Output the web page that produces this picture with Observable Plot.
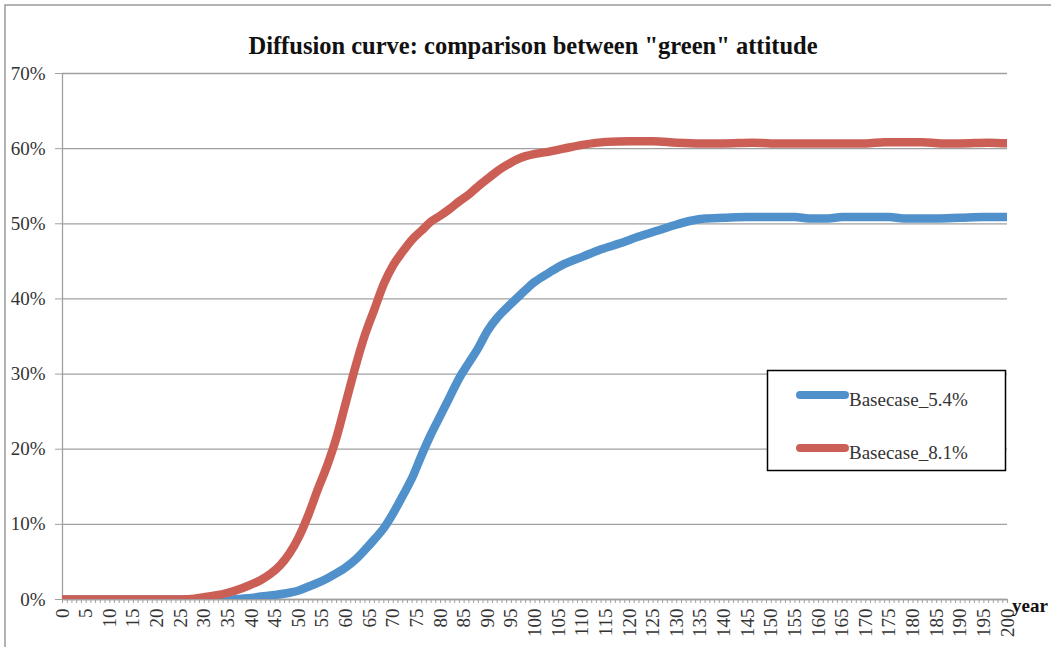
<!DOCTYPE html>
<html>
<head>
<meta charset="utf-8">
<script src="https://cdn.jsdelivr.net/npm/d3@7"></script>
<script src="https://cdn.jsdelivr.net/npm/@observablehq/plot@0.6"></script>
<style>
  html, body { margin: 0; padding: 0; background: #fff; }
  #chart { position: relative; width: 1051px; height: 647px; overflow: hidden; }
  #chart svg { display: block; }
</style>
</head>
<body>
<div id="chart"></div>
<script>
// ---- data ----
const title = "Diffusion curve: comparison between \"green\" attitude";
const xAxisLabel = "year";
const seriesNames = ["Basecase_5.4%", "Basecase_8.1%"];
const seriesColors = ["#5191cb", "#cc5f55"];

const blueYears  = [0, 5, 10, 15, 20, 25, 30, 35, 38, 40, 42, 45, 48, 50, 52, 54, 56, 58, 60, 62, 64, 66, 68, 70, 72, 74, 76, 78, 80, 82, 84, 86, 88, 90, 92, 94, 96, 98, 100, 103, 106, 110, 114, 118, 122, 126, 130, 133, 136, 140, 145, 150, 155, 158, 162, 165, 170, 175, 178, 185, 190, 195, 200];
const blueValues = [0, 0, 0, 0, 0, 0, 0, 0, 0.1, 0.2, 0.4, 0.6, 0.9, 1.2, 1.7, 2.2, 2.8, 3.5, 4.3, 5.3, 6.6, 8.0, 9.5, 11.5, 13.8, 16.2, 19.2, 22.0, 24.5, 27.0, 29.5, 31.5, 33.5, 35.8, 37.5, 38.8, 40.0, 41.2, 42.3, 43.5, 44.6, 45.6, 46.6, 47.4, 48.3, 49.1, 49.9, 50.4, 50.7, 50.8, 50.9, 50.9, 50.9, 50.7, 50.7, 50.9, 50.9, 50.9, 50.7, 50.7, 50.8, 50.9, 50.9];

const redYears  = [0, 5, 10, 15, 20, 25, 28, 30, 32, 35, 38, 40, 42, 44, 46, 48, 50, 52, 54, 56, 58, 60, 62, 64, 66, 68, 70, 72, 74, 76, 78, 80, 82, 84, 86, 88, 90, 92, 94, 96, 98, 100, 103, 106, 110, 115, 120, 125, 130, 135, 140, 146, 150, 160, 170, 174, 178, 182, 186, 190, 196, 200];
const redValues = [0, 0, 0, 0, 0, 0, 0.1, 0.3, 0.5, 0.9, 1.5, 2.0, 2.6, 3.4, 4.5, 6.1, 8.3, 11.2, 14.6, 17.8, 21.6, 26.3, 31.0, 35.2, 38.6, 42.0, 44.5, 46.3, 47.9, 49.1, 50.3, 51.1, 52.0, 53.0, 53.9, 55.0, 56.0, 57.0, 57.8, 58.5, 59.0, 59.3, 59.6, 60.0, 60.5, 60.9, 61.0, 61.0, 60.8, 60.7, 60.7, 60.8, 60.7, 60.7, 60.7, 60.85, 60.85, 60.85, 60.7, 60.7, 60.8, 60.7];

const yTickValues = [0, 0.1, 0.2, 0.3, 0.4, 0.5, 0.6, 0.7];
const xMinorTicks = d3.range(0, 201, 1);
const xLabelTicks = d3.range(0, 201, 5);

// ---- build tables ----
const blueData = blueYears.map((x, i) => ({x, y: blueValues[i] / 100}));
const redData  = redYears.map((x, i) => ({x, y: redValues[i] / 100}));

const gridColor = "#a0a0a0";
const textColor = "#333";
const serif = "'Liberation Serif', 'Times New Roman', serif";

const svg = Plot.plot({
  width: 1051,
  height: 647,
  marginLeft: 62,
  marginRight: 44,
  marginTop: 73,
  marginBottom: 48,
  x: {domain: [0, 200]},
  y: {domain: [0, 0.7]},
  style: {fontFamily: serif, fontSize: "19px", color: textColor, background: "transparent", overflow: "visible"},
  marks: [
    Plot.gridY(yTickValues, {stroke: gridColor, strokeOpacity: 1, strokeWidth: 1.3}),
    Plot.axisY(yTickValues, {tickFormat: d => Math.round(d * 100) + "%", tickSize: 7, tickPadding: 10, stroke: gridColor, strokeOpacity: 1, label: null, fill: textColor}),
    Plot.ruleX([0], {stroke: gridColor, strokeWidth: 1.3}),
    Plot.ruleY([0], {stroke: gridColor, strokeWidth: 1.3}),
    Plot.axisX(xMinorTicks, {tickSize: 4, tickFormat: () => "", stroke: gridColor, strokeOpacity: 1, label: null}),
    Plot.axisX(xLabelTicks, {tickSize: 0, tickPadding: 9, tickRotate: -90, label: null, fill: textColor}),
    Plot.line(blueData, {x: "x", y: "y", stroke: seriesColors[0], strokeWidth: 8.5, curve: "monotone-x", clip: true, strokeLinejoin: "round", strokeLinecap: "round"}),
    Plot.line(redData, {x: "x", y: "y", stroke: seriesColors[1], strokeWidth: 8.5, curve: "monotone-x", clip: true, strokeLinejoin: "round", strokeLinecap: "round"})
  ]
});

const s = d3.select(svg);
// outer chart-area border
s.insert("rect", ":first-child")
  .attr("x", 5).attr("y", 5).attr("width", 1200).attr("height", 800)
  .attr("fill", "none").attr("stroke", "#9a9a9a").attr("stroke-width", 1.5);

// title
s.append("text")
  .attr("x", 533).attr("y", 54)
  .attr("text-anchor", "middle")
  .attr("font-family", serif)
  .attr("font-weight", "bold").attr("font-size", 24.5).attr("fill", "#111")
  .text(title);

// x axis label
s.append("text")
  .attr("x", 1012).attr("y", 612)
  .attr("text-anchor", "start")
  .attr("font-family", serif)
  .attr("font-weight", "bold").attr("font-size", 19).attr("fill", "#111")
  .text(xAxisLabel);

// legend
const lg = s.append("g").attr("text-anchor", "start");
lg.append("rect")
  .attr("x", 767.5).attr("y", 370.5).attr("width", 238).attr("height", 100)
  .attr("fill", "#fff").attr("stroke", "#000").attr("stroke-width", 1.5);
const rowsY = [395, 448];
seriesNames.forEach((name, i) => {
  lg.append("line")
    .attr("x1", 800).attr("x2", 845).attr("y1", rowsY[i]).attr("y2", rowsY[i])
    .attr("stroke", seriesColors[i]).attr("stroke-width", 8).attr("stroke-linecap", "round");
  lg.append("text")
    .attr("x", 849).attr("y", rowsY[i] + 11)
    .attr("text-anchor", "start")
    .attr("font-family", serif)
    .attr("font-size", 19).attr("fill", textColor)
    .text(name);
});

document.getElementById("chart").appendChild(svg);
</script>
</body>
</html>
